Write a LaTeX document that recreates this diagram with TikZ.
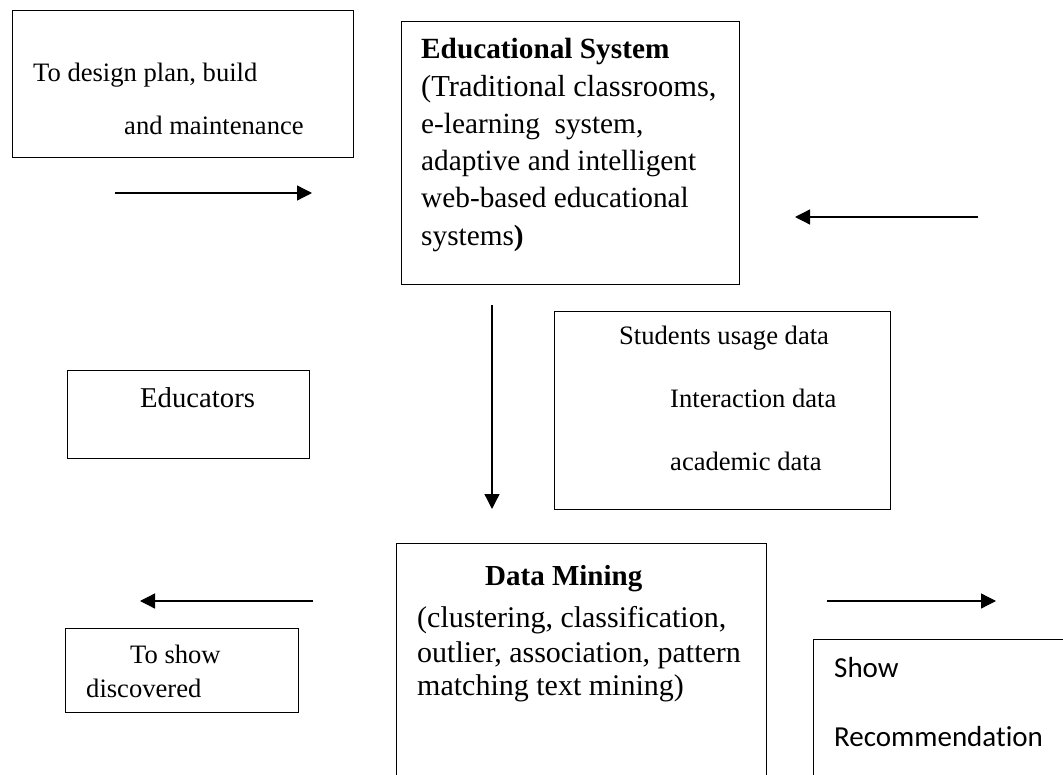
\documentclass[tikz,border=0pt]{standalone}
\usepackage{fontspec}
\setmainfont{Liberation Serif}
\newfontfamily\calib[Ligatures=NoCommon]{Carlito}
\usetikzlibrary{arrows.meta}
\tikzset{
  box/.style={draw, line width=1.3pt, rectangle, inner sep=0pt, anchor=north west},
  lbl/.style={anchor=base west, inner sep=0pt},
  arr/.style={line width=1.3pt, -{Triangle[length=15pt,width=15pt]}},
  fA/.style={font=\fontsize{26.6}{30}\selectfont},
  fB/.style={font=\fontsize{29.3}{34}\selectfont},
  fBt/.style={font=\fontsize{30.5}{34}\selectfont},
  fBb/.style={font=\fontsize{29.3}{34}\selectfont\bfseries},
  fC/.style={font=\fontsize{30}{34}\selectfont},
  fCb/.style={font=\fontsize{29}{34}\selectfont\bfseries},
  fE/.style={font=\fontsize{28.7}{34}\selectfont},
  fS/.style={font=\fontsize{29}{34}\calib\selectfont},
}
\begin{document}
\begin{tikzpicture}[x=1pt,y=-1pt]
\fill[white] (0,0) rectangle (1063,775);
\useasboundingbox (0,0) rectangle (1063,775);
\clip (0,0) rectangle (1063,775);

% boxes
\node[box, minimum width=341pt, minimum height=147pt] (design) at (12,10) {};
\node[box, minimum width=338pt, minimum height=263pt] (edusys) at (401,21) {};
\node[box, minimum width=336pt, minimum height=198pt] (usage) at (554,311) {};
\node[box, minimum width=242pt, minimum height=88pt] (educ) at (67,370) {};
\node[box, minimum width=370pt, minimum height=300pt] (dm) at (396,543) {};
\node[box, minimum width=233pt, minimum height=84pt] (toshow) at (65,628) {};
\node[box, minimum width=300pt, minimum height=200pt] (rec) at (813,639) {};

% texts
\node[lbl, fA] (t1a) at (33,82) {To design plan, build};
\node[lbl, fA] (t1b) at (124,135) {and maintenance};

\node[lbl, fBb] (t2a) at (421,59) {Educational System};
\node[lbl, fBt] (t2b) at (421,97) {(Traditional classrooms,};
\node[lbl, fB] (t2c) at (421,134) {e-learning\ \ system,};
\node[lbl, fB] (t2d) at (421,171) {adaptive and intelligent};
\node[lbl, fB] (t2e) at (421,208) {web-based educational};
\node[lbl, fB] (t2f) at (421,246) {systems\textbf{)}};

\node[lbl, fA] (t3a) at (619,345) {Students usage data};
\node[lbl, fA] (t3b) at (670,408) {Interaction data};
\node[lbl, fA] (t3c) at (670,470) {academic data};

\node[lbl, fE] (t4) at (140,408) {Educators};

\node[lbl, fCb] (t5a) at (485,585) {Data Mining};
\node[lbl, fC] (t5b) at (417,627) {(clustering, classification,};
\node[lbl, fC] (t5c) at (417,662) {outlier, association, pattern};
\node[lbl, fC] (t5d) at (417,695) {matching text mining)};

\node[lbl, fA] (t6a) at (130,663) {To show};
\node[lbl, fA] (t6b) at (86,697) {discovered};

\node[lbl, fS] (t7a) at (834,677) {Show};
\node[lbl, fS] (t7b) at (834,746) {Recommendation};

% arrows
\coordinate (a1s) at (115,193); \coordinate (a1e) at (312,193);
\coordinate (a2s) at (978,217); \coordinate (a2e) at (795,217);
\coordinate (a3s) at (492,305); \coordinate (a3e) at (492,509);
\coordinate (a4s) at (313,601); \coordinate (a4e) at (140,601);
\coordinate (a5s) at (827,601); \coordinate (a5e) at (996,601);
\draw[arr] (a1s) -- (a1e);
\draw[arr] (a2s) -- (a2e);
\draw[arr] (a3s) -- (a3e);
\draw[arr] (a4s) -- (a4e);
\draw[arr] (a5s) -- (a5e);
\end{tikzpicture}
\end{document}
